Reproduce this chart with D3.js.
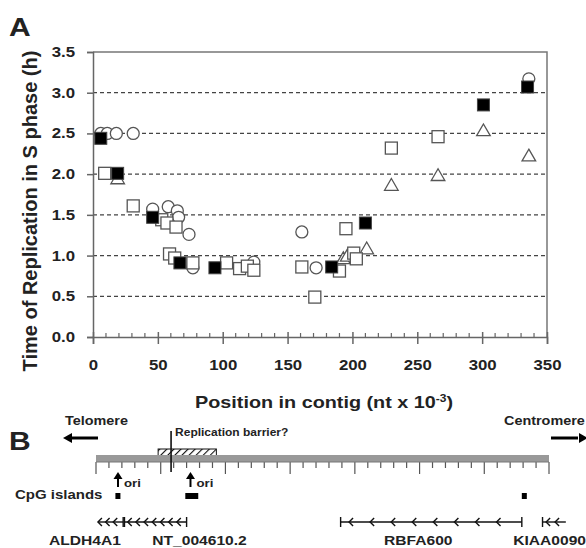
<!DOCTYPE html>
<html lang="en">
<head>
<meta charset="UTF-8">
<title>Replication timing</title>
<script src="https://d3js.org/d3.v7.min.js"></script>
<style>
  body { margin: 0; background: #fff; }
  text { font-family: "Liberation Sans", Arial, sans-serif; font-weight: bold; fill: #222; }
</style>
</head>
<body>
<script>
// tick values
const xTickValues = [0, 50, 100, 150, 200, 250, 300, 350];
const yTickValues = [0, 0.5, 1.0, 1.5, 2.0, 2.5, 3.0, 3.5];

// series: [position (kb), time (h)]
const openCircles = [
  [6, 2.5], [11, 2.5], [18, 2.5], [31, 2.5], [46, 1.57], [58, 1.6], [65, 1.55],
  [66, 1.47], [74, 1.26], [77, 0.85], [124, 0.92], [161, 1.29], [172, 0.85], [336, 3.17]
];
const openSquares = [
  [9, 2.01], [31, 1.61], [53, 1.44], [57, 1.4], [64, 1.35], [59, 1.02], [63, 0.97],
  [77, 0.91], [103, 0.91], [113, 0.84], [119, 0.87], [124, 0.82], [161, 0.86],
  [171, 0.49], [190, 0.81], [195, 1.33], [201, 1.03], [203, 0.96], [230, 2.32], [266, 2.46]
];
const filledSquares = [
  [6, 2.44], [19, 2.01], [46, 1.47], [67, 0.91], [94, 0.85], [184, 0.86],
  [210, 1.4], [301, 2.85], [335, 3.07]
];
const openTriangles = [
  [19, 1.93], [193, 0.95], [196, 0.98], [211, 1.07], [230, 1.85], [266, 1.97],
  [301, 2.52], [336, 2.21]
];

// panel B map features (kb)
const barrierPos = 58;
const barrierRegion = [48, 93];
const oriPositions = [17, 73];
const cpgIslands = [[15, 18], [69, 79], [329, 332]];
const geneNames = ["ALDH4A1", "NT_004610.2", "RBFA600", "KIAA0090"];
const geneStarts = [1.5, 22, 189, 345];
const geneEnds = [21, 70, 329, 363];
const geneChevrons = [3, 7, 8, 2];
const geneLabelPos = [-8.5, 80, 249, 350.5];

const w = 586, h = 548;
const sx = 1.2; // the figure's lettering is a little wide
const svg = d3.select("body").append("svg").attr("width", w).attr("height", h);

// horizontal label helper
function label(x, y, str, size, anchor) {
  return svg.append("text")
    .attr("transform", `translate(${x},${y}) scale(${sx},1)`)
    .attr("text-anchor", anchor || "start")
    .style("font-size", size + "px")
    .text(str);
}

// ---------- panel A ----------
const xScale = d3.scaleLinear().domain([0, 350]).range([93, 547]);
const yScale = d3.scaleLinear().domain([0, 3.5]).range([337, 52]);

label(9, 36, "A", 25);

// dashed grid lines
svg.append("g")
  .selectAll("line")
  .data(yTickValues.filter(d => d > 0 && d < 3.5))
  .enter().append("line")
  .attr("x1", xScale(0)).attr("x2", xScale(350))
  .attr("y1", d => yScale(d)).attr("y2", d => yScale(d))
  .attr("stroke", "#444").attr("stroke-width", 1.2)
  .attr("stroke-dasharray", "4,3");

// frame top and right
svg.append("path")
  .attr("d", `M${xScale(0)},${yScale(3.5)}H${xScale(350)}V${yScale(0)}`)
  .attr("fill", "none").attr("stroke", "#777").attr("stroke-width", 1.5);

// y axis
const yAxis = d3.axisLeft(yScale).tickValues(yTickValues).tickSize(6)
  .tickFormat(d3.format(".1f"));
const gy = svg.append("g").attr("transform", `translate(${xScale(0)},0)`).call(yAxis);
gy.select(".domain").attr("stroke", "#666").attr("stroke-width", 1.5);
gy.selectAll(".tick line").attr("stroke", "#666").attr("stroke-width", 1.5);
gy.selectAll(".tick text")
  .attr("x", -18 / sx)
  .attr("transform", `scale(${sx},1)`)
  .style("font-size", "14px").style("font-family", "Liberation Sans, Arial")
  .style("font-weight", "bold").attr("fill", "#333");

// x axis: minor ticks
const minorTicks = d3.range(0, 351, 10).filter(d => d % 50 !== 0);
svg.append("g").selectAll("line").data(minorTicks).enter().append("line")
  .attr("x1", d => xScale(d)).attr("x2", d => xScale(d))
  .attr("y1", yScale(0) - 4).attr("y2", yScale(0))
  .attr("stroke", "#666").attr("stroke-width", 1.2);

const xAxis = d3.axisBottom(xScale).tickValues(xTickValues).tickSize(7).tickPadding(16);
const gx = svg.append("g").attr("transform", `translate(0,${yScale(0)})`).call(xAxis);
gx.select(".domain").attr("stroke", "#666").attr("stroke-width", 1.5);
gx.selectAll(".tick line").attr("stroke", "#666").attr("stroke-width", 1.5).attr("y1", -5);
gx.selectAll(".tick text")
  .attr("transform", `scale(${sx},1)`)
  .style("font-size", "14px").style("font-family", "Liberation Sans, Arial")
  .style("font-weight", "bold").attr("fill", "#333");

// axis titles
svg.append("text")
  .attr("transform", "translate(37,211) rotate(-90)")
  .attr("text-anchor", "middle")
  .style("font-size", "20px")
  .text("Time of Replication in S phase (h)");

const xt = label(195, 408, "", 16.5);
xt.append("tspan").text("Position in contig (nt x 10");
xt.append("tspan").attr("dy", -6).style("font-size", "10px").text("-3");
xt.append("tspan").attr("dy", 6).text(")");

// markers
const mk = svg.append("g");
mk.selectAll(".c").data(openCircles).enter().append("circle")
  .attr("cx", d => xScale(d[0])).attr("cy", d => yScale(d[1])).attr("r", 6)
  .attr("fill", "#fff").attr("stroke", "#555").attr("stroke-width", 1.3);
mk.selectAll(".t").data(openTriangles).enter().append("path")
  .attr("transform", d => `translate(${xScale(d[0])},${yScale(d[1])})`)
  .attr("d", d3.symbol().type(d3.symbolTriangle).size(80))
  .attr("fill", "#fff").attr("stroke", "#555").attr("stroke-width", 1.3);
mk.selectAll(".s").data(openSquares).enter().append("rect")
  .attr("x", d => xScale(d[0]) - 6).attr("y", d => yScale(d[1]) - 6)
  .attr("width", 12).attr("height", 12)
  .attr("fill", "#fff").attr("stroke", "#555").attr("stroke-width", 1.3);
mk.selectAll(".f").data(filledSquares).enter().append("rect")
  .attr("x", d => xScale(d[0]) - 6).attr("y", d => yScale(d[1]) - 6)
  .attr("width", 12).attr("height", 12)
  .attr("fill", "#000").attr("stroke", "#444").attr("stroke-width", 1);

// ---------- panel B ----------
const xB = d3.scaleLinear().domain([0, 350]).range([96, 549]);
const barY = 459;

label(9, 450, "B", 25);

const defs = svg.append("defs");
const pat = defs.append("pattern").attr("id", "hatch").attr("patternUnits", "userSpaceOnUse")
  .attr("width", 5).attr("height", 5).attr("patternTransform", "rotate(45)");
pat.append("rect").attr("width", 5).attr("height", 5).attr("fill", "#fff");
pat.append("line").attr("x1", 0).attr("y1", 0).attr("x2", 0).attr("y2", 5)
  .attr("stroke", "#111").attr("stroke-width", 2.2);

// arrows for telomere / centromere
const arrowHead = (x, y, dir) => `M${x},${y}l${-dir * 9},-5v10z`;
svg.append("line").attr("x1", 98).attr("x2", 72).attr("y1", 438).attr("y2", 438)
  .attr("stroke", "#000").attr("stroke-width", 3);
svg.append("path").attr("d", arrowHead(63, 438, -1)).attr("fill", "#000");
svg.append("line").attr("x1", 551).attr("x2", 578).attr("y1", 438).attr("y2", 438)
  .attr("stroke", "#000").attr("stroke-width", 3);
svg.append("path").attr("d", arrowHead(588, 438, 1)).attr("fill", "#000");
label(65, 425, "Telomere", 12);
label(504, 425, "Centromere", 12);

// hatched barrier region
svg.append("rect")
  .attr("x", xB(barrierRegion[0])).attr("y", 449)
  .attr("width", xB(barrierRegion[1]) - xB(barrierRegion[0])).attr("height", 6.5)
  .attr("fill", "url(#hatch)").attr("stroke", "#111").attr("stroke-width", 1);

// grey contig bar
svg.append("rect").attr("x", xB(0)).attr("y", barY - 4).attr("width", xB(350) - xB(0))
  .attr("height", 7).attr("fill", "#999");

// contig ticks
svg.append("g").selectAll("line").data(d3.range(0, 351, 10)).enter().append("line")
  .attr("x1", d => xB(d)).attr("x2", d => xB(d))
  .attr("y1", barY + 3).attr("y2", d => d % 50 === 0 ? barY + 15 : barY + 9)
  .attr("stroke", "#555").attr("stroke-width", 1.2);
svg.append("line").attr("x1", xB(0)).attr("x2", xB(350)).attr("y1", barY + 3).attr("y2", barY + 3)
  .attr("stroke", "#777").attr("stroke-width", 1);

// barrier line
svg.append("line").attr("x1", xB(barrierPos)).attr("x2", xB(barrierPos))
  .attr("y1", 431).attr("y2", 472).attr("stroke", "#111").attr("stroke-width", 1.6);
label(xB(barrierPos) + 4, 436, "Replication barrier?", 10);

// origins
oriPositions.forEach(p => {
  const x = xB(p);
  svg.append("line").attr("x1", x).attr("x2", x).attr("y1", 487).attr("y2", 478)
    .attr("stroke", "#000").attr("stroke-width", 2);
  svg.append("path").attr("d", `M${x},${472}l-4.5,7h9z`).attr("fill", "#000");
  label(x + 6, 487, "ori", 11);
});

// CpG islands
label(15, 499, "CpG islands", 12.5);
svg.append("g").selectAll("rect").data(cpgIslands).enter().append("rect")
  .attr("x", d => xB(d[0])).attr("y", 493)
  .attr("width", d => Math.max(5, xB(d[1]) - xB(d[0]))).attr("height", 6)
  .attr("fill", "#000");

// genes
const geneY = 522;
geneNames.forEach((name, i) => {
  const x0 = xB(geneStarts[i]), x1 = xB(geneEnds[i]);
  const g = svg.append("g").attr("stroke", "#111").attr("stroke-width", 1.4).attr("fill", "none");
  g.append("line").attr("x1", x0).attr("x2", x1).attr("y1", geneY).attr("y2", geneY);
  if (i !== 0) g.append("line").attr("x1", x0).attr("x2", x0).attr("y1", geneY - 5).attr("y2", geneY + 5);
  if (i !== 3) g.append("line").attr("x1", x1).attr("x2", x1).attr("y1", geneY - 5).attr("y2", geneY + 5);
  const n = geneChevrons[i];
  const step = (x1 - x0) / (n + (i === 0 ? 0.3 : 0.6));
  for (let k = 0; k < n; k++) {
    const cx = (i === 0 ? x0 : x0 + step * 0.4) + step * k;
    g.append("path").attr("d", `M${cx + 4},${geneY - 4}L${cx},${geneY}L${cx + 4},${geneY + 4}`);
  }
  label(xB(geneLabelPos[i]), 545, name, 13, "middle");
});
</script>
</body>
</html>
